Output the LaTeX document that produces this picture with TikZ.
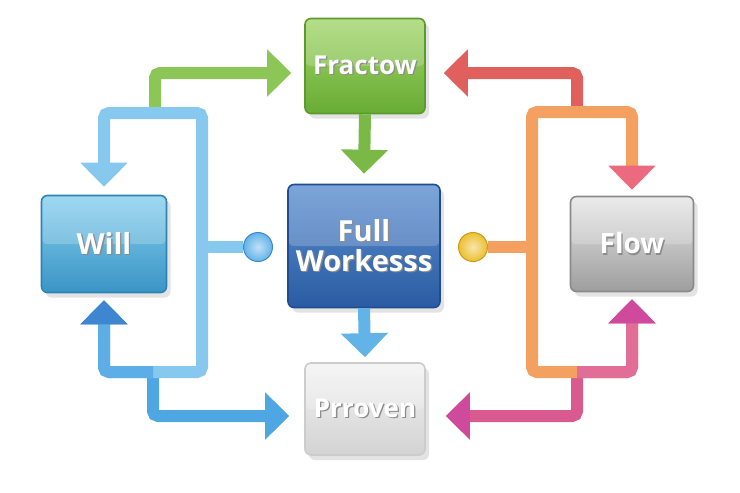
\documentclass[tikz,border=0pt]{standalone}
\usepackage{fontspec}
\setmainfont{Open Sans}
\usetikzlibrary{arrows.meta,shadows,calc}

\definecolor{pipelight}{HTML}{86C8EE}
\definecolor{pipedeep}{HTML}{3F86D0}
\definecolor{pipemid}{HTML}{4EA6E2}
\definecolor{pipebottom}{HTML}{5DAEE6}
\definecolor{pipesky}{HTML}{62B4E8}
\definecolor{pipegreen}{HTML}{8CC657}
\definecolor{pipegreendark}{HTML}{7AB946}
\definecolor{pipeorange}{HTML}{F4A060}
\definecolor{pipepink}{HTML}{EC6A80}
\definecolor{pipecoral}{HTML}{E06E96}
\definecolor{pipemagenta}{HTML}{CF4A9C}
\definecolor{pipered}{HTML}{E0605E}
\definecolor{pipebranch}{HTML}{D85A8E}

\definecolor{fractowtop}{HTML}{A2D66A}
\definecolor{fractowbot}{HTML}{68AC34}
\definecolor{fractowline}{HTML}{5C9A2C}
\definecolor{fulltop}{HTML}{5B8ED0}
\definecolor{fullbot}{HTML}{2B5CA3}
\definecolor{fullline}{HTML}{1F4C94}
\definecolor{willtop}{HTML}{86CFEE}
\definecolor{willbot}{HTML}{3A95C5}
\definecolor{willline}{HTML}{2F82B4}
\definecolor{flowtop}{HTML}{E6E6E6}
\definecolor{flowbot}{HTML}{9E9E9E}
\definecolor{flowline}{HTML}{8A8A8A}
\definecolor{prtop}{HTML}{F3F3F3}
\definecolor{prbot}{HTML}{D3D3D3}
\definecolor{prline}{HTML}{CCCCCC}
\definecolor{dotyellow}{HTML}{ECC030}
\definecolor{dotyellowline}{HTML}{D09A18}

\newcommand\shadowtext[1]{\makebox[0pt][l]{\hspace{1.3pt}\raisebox{-1.3pt}{\color{black!45}#1}}#1}

\tikzset{
  bigtip/.tip={Triangle[width=46pt,length=24pt]},
  box/.style={rectangle, rounded corners=6pt, inner sep=0pt, align=center,
    text=white, font=\bfseries\fontsize{26}{30}\selectfont, line width=1.6pt,
    drop shadow={opacity=.22, shadow xshift=4pt, shadow yshift=-5pt},
    path picture={\fill[white, opacity=.2] (path picture bounding box.north west)
      rectangle (path picture bounding box.east);}},
  boxcol/.style={draw=#1line, top color=#1top, bottom color=#1bot},
  pipe/.style={line width=12pt, draw=#1, rounded corners=5pt},
  dot/.style n args={2}{circle, inner sep=0pt, minimum size=29pt, line width=1pt,
    draw=#2, inner color=#1!40!white, outer color=#1}
}

\begin{document}
\begin{tikzpicture}[x=1pt, y=-1pt]
	 \useasboundingbox (0, 0) rectangle (740, 493);

	 \node[box, boxcol=fractow, minimum width=120pt, minimum height=95pt]
	   (fractow) at (365, 66) {\shadowtext{Fractow}};
	 \node[box, boxcol=full, minimum width=152pt, minimum height=123pt,
	   font=\bfseries\fontsize{29}{30}\selectfont]
	   (full) at (364, 246) {\shadowtext{Full}\\\shadowtext{Workesss}};
	 \node[box, boxcol=will, minimum width=125pt, minimum height=97pt,
	   font=\bfseries\fontsize{29}{30}\selectfont]
	   (will) at (104, 244) {\shadowtext{Will}};
	 \node[box, boxcol=flow, minimum width=123pt, minimum height=95pt,
	   font=\bfseries\fontsize{28}{30}\selectfont]
	   (flow) at (632, 244) {\shadowtext{Flow}};
	 \node[box, boxcol=pr, minimum width=120pt, minimum height=92pt]
	   (prroven) at (365, 409) {\shadowtext{Prroven}};

	 % junctions of the left loop
	 \coordinate (ltr) at (202, 113);
	 \coordinate (lbr) at (202, 372);
	 \coordinate (lgj) at (155, 113);
	 \coordinate (lbj) at (153, 372);
	 \coordinate (lmid) at (202, 247);
	 % junctions of the right loop
	 \coordinate (rtl) at (532, 112);
	 \coordinate (rbl) at (532, 372);
	 \coordinate (rrj) at (577, 112);
	 \coordinate (rpj) at (577, 372);
	 \coordinate (rmid) at (532, 247);

	 \node[dot={pipesky}{pipedeep}] (bdot) at (258, 247) {};
	 \node[dot={dotyellow}{dotyellowline}] (ydot) at (473, 247) {};

	 % left side
	 \draw[pipe=pipegreen, -{bigtip[color=pipegreen]}] (lgj) |- ([xshift=-13pt, yshift=-7pt]fractow.west);
	 \draw[pipe=pipemid, -{bigtip[color=pipemid]}] (lbj) |- ([xshift=-15pt, yshift=-7pt]prroven.west);
	 \draw[pipe=pipelight] (lmid) -- (bdot);
	 \draw[pipe=pipelight, {bigtip[color=pipelight]}-{bigtip[color=pipedeep]}]
	   ([yshift=8pt]will.north) |- (ltr) -- (lbr) -| ([yshift=-7pt]will.south);
	 \draw[pipe=pipebottom, -{bigtip[color=pipedeep]}] (lbj) -| ([yshift=-7pt]will.south);

	 % right side
	 \draw[pipe=pipered, -{bigtip[color=pipered]}] (rrj) |- ([xshift=18pt, yshift=-7pt]fractow.east);
	 \draw[pipe=pipebranch, -{bigtip[color=pipemagenta]}] (rpj) |- ([xshift=20pt, yshift=-7pt]prroven.east);
	 \draw[pipe=pipeorange] (rmid) -- (ydot);
	 \draw[pipe=pipeorange, {bigtip[color=pipepink]}-{bigtip[color=pipemagenta]}]
	   ([yshift=6pt]flow.north) |- (rtl) -- (rbl) -| ([yshift=-7pt]flow.south);
	 \draw[pipe=pipecoral, -{bigtip[color=pipemagenta]}] (rpj) -| ([yshift=-7pt]flow.south);

	 % middle
	 \draw[pipe=pipegreendark, -{bigtip[color=pipegreendark]}] (fractow.south) -- ([yshift=10pt]full.north);
	 \draw[pipe=pipesky, -{bigtip[color=pipesky]}] (full.south) -- ([yshift=5pt]prroven.north);
\end{tikzpicture}
\end{document}
